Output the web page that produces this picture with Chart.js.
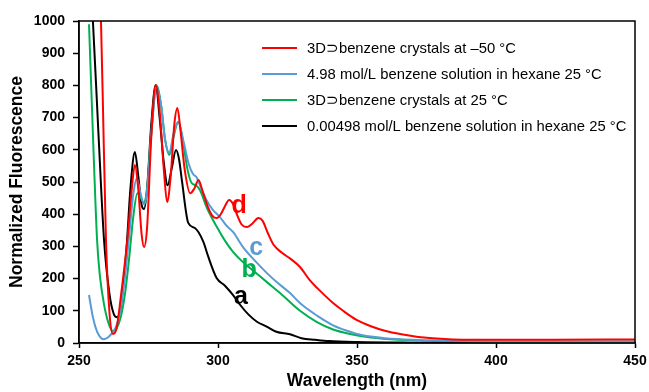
<!DOCTYPE html>
<html>
<head>
<meta charset="utf-8">
<script src="https://cdn.jsdelivr.net/npm/chart.js@4.4.0/dist/chart.umd.min.js"></script>
<style>
  html, body { margin: 0; padding: 0; background: #fff; }
</style>
</head>
<body>
<canvas id="chart" width="649" height="392"></canvas>
<script>
// series d: 3D⊃benzene crystals at -50 °C
const redX = [257.5, 258.5, 259.7, 261, 262.2, 263.5, 265, 267.5, 269, 270.1, 271.3, 272.5, 273.4, 274.5, 276, 277.6, 279, 280.5, 281.7, 283, 284.3, 285.4, 286.5, 288, 290, 291.5, 293, 294.5, 296.5, 298, 299.5, 301, 302.5, 304, 305.5, 307, 308.5, 310.5, 312.5, 314.5, 316, 318, 320, 323, 326, 329.5, 333, 336, 341.4, 345, 350, 355, 360, 366, 372, 383, 400, 420, 450];
const redY = [1150, 780, 320, 90, 28, 45, 140, 330, 480, 553, 480, 340, 298, 360, 640, 801, 720, 540, 438, 520, 680, 730, 660, 540, 465, 480, 506, 470, 420, 395, 388, 400, 425, 444, 430, 395, 368, 360, 372, 388, 380, 340, 305, 280, 262, 236, 195, 168, 124, 100, 71, 52, 38, 27, 19, 12, 10, 10, 11];

// series c: 4.98 mol/L benzene solution in hexane
const blueX = [253.6, 255, 256.5, 258, 259, 260.5, 262, 263.5, 265, 266.5, 268, 269.5, 270.8, 272, 273.4, 274.5, 276, 277.9, 279.5, 281, 282.5, 284, 285.7, 287.5, 289.5, 291, 292.3, 293.5, 295.5, 298, 300.7, 303, 305.4, 309, 313, 317.6, 321, 325.9, 330, 335.6, 341.4, 347.5, 350, 355, 360, 370, 385, 400, 420, 450];
const blueY = [149, 80, 35, 15, 12, 18, 32, 55, 110, 200, 330, 460, 512, 470, 430, 470, 650, 795, 740, 630, 590, 650, 688, 630, 555, 525, 515, 490, 450, 415, 391, 365, 345, 298, 258, 217, 190, 155, 120, 85, 55, 35, 28, 20, 15, 10, 7, 5, 5, 5];

// series b: 3D⊃benzene crystals at 25 °C
const greenX = [253.6, 255, 256.5, 257.5, 259, 260.5, 262.2, 263.5, 265, 266.5, 268, 269.5, 271, 272.3, 273.2, 274.5, 276, 277.9, 279.5, 281, 282.5, 284, 285.7, 287.5, 289, 290.5, 292, 293.5, 296, 299.6, 302.5, 305.4, 308.5, 311.5, 317.6, 323, 329.5, 335.6, 341.4, 347.5, 355, 365, 380, 400, 450];
const greenY = [990, 650, 320, 210, 120, 65, 37, 45, 80, 150, 260, 390, 465, 450, 435, 480, 650, 800, 740, 630, 584, 640, 686, 620, 540, 497, 490, 475, 420, 360, 318, 283, 255, 233, 189, 150, 100, 65, 42, 28, 17, 10, 6, 4, 4];

// series a: 0.00498 mol/L benzene solution in hexane
const blackX = [253.6, 255, 257, 259, 261, 262.5, 263.7, 265, 266.5, 267.3, 268.5, 270.1, 271.3, 272.5, 273.4, 274.5, 276, 277.6, 279, 280.5, 281.9, 283.3, 284.9, 286, 287, 289.3, 291.7, 294.7, 296.5, 299.5, 302.5, 305.5, 308, 311, 314, 317.5, 321, 325.9, 330, 335, 340, 350, 370, 400, 450];
const blackY = [1200, 1000, 650, 320, 150, 90, 80, 110, 230, 320, 480, 593, 520, 430, 416, 480, 680, 801, 700, 560, 490, 540, 599, 570, 506, 373, 357, 315, 268, 202, 178, 148, 118, 88, 66, 51, 35, 27, 15, 10, 6, 3, 1, 0, 0];

const seriesLabels = ['3D\u2283benzene crystals at \u201350 \u00b0C', '4.98 mol/L benzene solution in hexane 25 \u00b0C', '3D\u2283benzene crystals at 25 \u00b0C', '0.00498 mol/L benzene solution in hexane 25 \u00b0C'];
const seriesColors = ['#FF0000', '#5B9BD5', '#00B050', '#000000'];

// curve letters, placed in data coordinates
const tagText = ['d', 'c', 'b', 'a'];
const tagX = [307.6, 313.7, 311.2, 308.3];
const tagY = [425, 295, 225, 143];

const xTicks = [250, 300, 350, 400, 450];

function pts(xs, ys) {
  return xs.map((x, i) => ({ x: x, y: ys[i] }));
}

const seriesData = [pts(redX, redY), pts(blueX, blueY), pts(greenX, greenY), pts(blackX, blackY)];

const extras = {
  id: 'extras',
  afterDatasetsDraw(chart) {
    const ctx = chart.ctx;
    const a = chart.chartArea;
    const xs = chart.scales.x, ys = chart.scales.y;
    ctx.save();
    // frame
    ctx.strokeStyle = '#000';
    ctx.lineWidth = 1.5;
    ctx.strokeRect(a.left, a.top, a.right - a.left, a.bottom - a.top);
    // curve letters
    ctx.font = 'bold 25px "Liberation Sans", Arial, sans-serif';
    ctx.textAlign = 'center';
    ctx.textBaseline = 'middle';
    tagText.forEach((t, i) => {
      ctx.fillStyle = seriesColors[i];
      ctx.fillText(t, xs.getPixelForValue(tagX[i]), ys.getPixelForValue(tagY[i]));
    });
    // legend
    ctx.font = '14.8px "Liberation Sans", Arial, sans-serif';
    ctx.textAlign = 'left';
    seriesLabels.forEach((lab, i) => {
      const y = 48 + i * 26;
      ctx.strokeStyle = seriesColors[i];
      ctx.lineWidth = 2;
      ctx.beginPath();
      ctx.moveTo(262, y);
      ctx.lineTo(297, y);
      ctx.stroke();
      ctx.fillStyle = '#000';
      ctx.fillText(lab, 307, y + 1);
    });
    ctx.restore();
  }
};

const tickFont = { family: '"Liberation Sans", Arial, sans-serif', size: 14, weight: 'bold' };
const titleFont = { family: '"Liberation Sans", Arial, sans-serif', size: 17.5, weight: 'bold' };

new Chart(document.getElementById('chart'), {
  type: 'line',
  data: {
    datasets: seriesData.map((d, i) => ({
      label: seriesLabels[i],
      data: d,
      borderColor: seriesColors[i],
      borderWidth: 2,
      pointRadius: 0,
      fill: false,
      tension: 0.4,
      cubicInterpolationMode: 'monotone',
      order: i
    }))
  },
  options: {
    responsive: false,
    animation: false,
    layout: { padding: { left: 0, right: 14, top: 21, bottom: 0 } },
    plugins: { legend: { display: false }, tooltip: { enabled: false } },
    scales: {
      x: {
        type: 'linear',
        min: 250,
        max: 450,
        afterBuildTicks: s => { s.ticks = xTicks.map(v => ({ value: v })); },
        afterFit: s => { s.height = 49; s.paddingLeft = 0; s.paddingRight = 0; },
        grid: { drawOnChartArea: false, drawTicks: true, tickLength: 5, tickColor: '#000', tickWidth: 1.5 },
        border: { display: true, color: '#000', width: 1.5 },
        ticks: { color: '#000', font: tickFont, padding: 5, maxRotation: 0, callback: v => String(v) },
        title: { display: true, text: 'Wavelength (nm)', color: '#000', font: titleFont, padding: { top: 0, bottom: 0 } }
      },
      y: {
        min: 0,
        max: 1000,
        afterFit: s => { s.width = 79; s.paddingTop = 0; s.paddingBottom = 0; },
        grid: { drawOnChartArea: false, drawTicks: true, tickLength: 6, tickColor: '#000', tickWidth: 1.5 },
        border: { display: true, color: '#000', width: 1.5 },
        ticks: { stepSize: 100, color: '#000', font: tickFont, padding: 8, callback: v => String(v) },
        title: { display: true, text: 'Normalized Fluorescence', color: '#000', font: titleFont, padding: { top: 7, bottom: 4 } }
      }
    }
  },
  plugins: [extras]
});
</script>
</body>
</html>
